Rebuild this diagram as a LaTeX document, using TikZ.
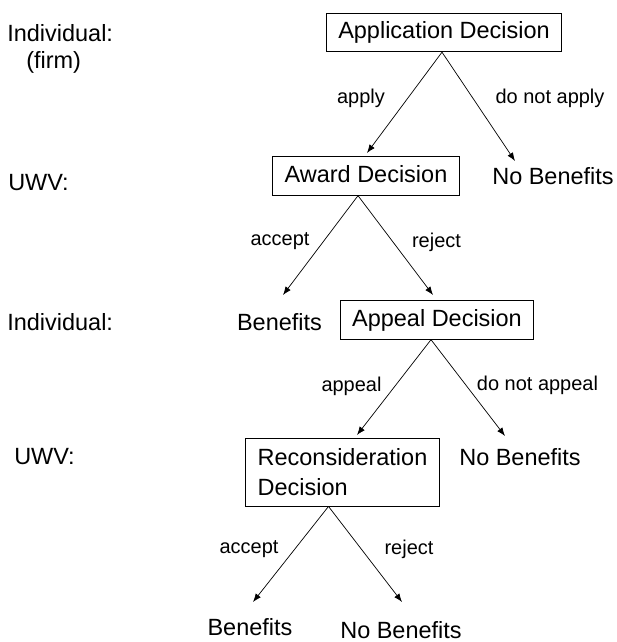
\documentclass[tikz,border=0pt]{standalone}
\usepackage{fontspec}
\setmainfont{Liberation Sans}
\usetikzlibrary{arrows.meta,positioning}

\begin{document}
\begin{tikzpicture}[x=0.025cm, y=-0.025cm,
        line/.style={>={Latex[length=6pt,width=4.5pt]}, line width=0.5pt},
        box/.style={draw, line width=0.6pt, inner xsep=0.3cm, font=\fontsize{16.7}{21.3}\selectfont},
        decision/.style={box, inner ysep=0.2cm, text height=12.4pt, text depth=3.6pt},
        outcome/.style={font=\fontsize{16.7}{21.3}\selectfont},
        who/.style={anchor=west, inner xsep=0pt, font=\fontsize{16.7}{21.3}\selectfont},
        choice/.style={font=\fontsize{14.2}{17}\selectfont}]
        \useasboundingbox (0,0) rectangle (616,642);

        % who decides
        \node[who] (ind1) at (7,33) {Individual:};
        \node[who] (firm) at (26,62) {(firm)};
        \node[who] (uwv1) at (8,183) {UWV:};
        \node[who] (ind2) at (7,322) {Individual:};
        \node[who] (uwv2) at (14,457) {UWV:};

        % decisions
        \node[decision] (app) at (444,32.5) {Application Decision};
        \node[decision] (award) at (366,176) {Award Decision};
        \node[decision] (appeal) at (437,320) {Appeal Decision};
        \node[box, align=left, inner ysep=0.26cm] (recon) at (342.5,472) {Reconsideration\\Decision};

        % outcomes
        \node[outcome] (nb1) at (553,176) {No Benefits};
        \node[outcome] (ben1) at (279.5,322) {Benefits};
        \node[outcome] (nb2) at (520,457) {No Benefits};
        \node[outcome] (ben2) at (250,627) {Benefits};
        \node[outcome] (nb3) at (401,630) {No Benefits};

        \coordinate (t1) at (367,153);
        \coordinate (t2) at (515,161);
        \coordinate (t3) at (283,295);
        \coordinate (t4) at (433,295);
        \coordinate (t5) at (357,435);
        \coordinate (t6) at (505,436);
        \coordinate (t7) at (253,602);
        \coordinate (t8) at (402,602);

        \draw[->, line] ([xshift=-0.05cm]app.south) -- (t1);
        \draw[->, line] ([xshift=-0.05cm]app.south) -- (t2);
        \draw[->, line] ([xshift=-0.2cm]award.south) -- (t3);
        \draw[->, line] ([xshift=-0.2cm]award.south) -- (t4);
        \draw[->, line] ([xshift=-0.15cm]appeal.south) -- (t5);
        \draw[->, line] ([xshift=-0.15cm]appeal.south) -- (t6);
        \draw[->, line] ([xshift=-0.35cm]recon.south) -- (t7);
        \draw[->, line] ([xshift=-0.35cm]recon.south) -- (t8);

        % choices
        \node[choice] (apply) at (361,98) {apply};
        \node[choice] (noapply) at (550,98) {do not apply};
        \node[choice] (accept1) at (280,241) {accept};
        \node[choice] (reject1) at (436.5,242) {reject};
        \node[choice] (doappeal) at (351.5,386) {appeal};
        \node[choice] (noappeal) at (537.5,385) {do not appeal};
        \node[choice] (accept2) at (249,549) {accept};
        \node[choice] (reject2) at (409,549) {reject};
    \end{tikzpicture}
\end{document}
